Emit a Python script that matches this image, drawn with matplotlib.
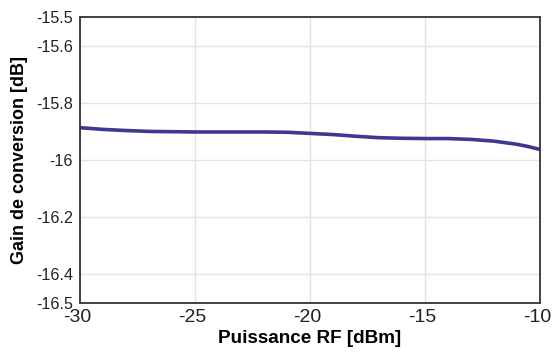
import matplotlib
matplotlib.use("Agg")
import matplotlib.pyplot as plt
import matplotlib.transforms as mtransforms

# RF power sweep (dBm) and conversion gain (dB)
power = [-30, -29, -28, -27, -26, -25, -24, -23, -22, -21, -20, -19, -18,
         -17, -16, -15, -14, -13, -12, -11, -10.5, -10]
gain = [-15.887, -15.893, -15.897, -15.900, -15.901, -15.902, -15.902,
        -15.902, -15.902, -15.903, -15.907, -15.911, -15.917, -15.922,
        -15.924, -15.925, -15.925, -15.928, -15.934, -15.945, -15.953,
        -15.963]

yticks = [-15.5, -15.6, -15.8, -16.0, -16.2, -16.4, -16.5]
ytick_labels = ["-15.5", "-15.6", "-15.8", "-16", "-16.2", "-16.4", "-16.5"]
xticks = [-30, -25, -20, -15, -10]

plt.rcParams["font.family"] = ["Liberation Sans", "DejaVu Sans"]

fig = plt.figure(figsize=(5.52, 3.54), dpi=100)
ax = fig.add_axes([0.145, 0.144, 0.833, 0.808])

ax.plot(power, gain, color="#3d3890", linewidth=2.6, solid_capstyle="butt")

ax.set_xlim(-30, -10)
ax.set_ylim(-16.5, -15.5)
ax.set_xticks(xticks)
ax.set_xticklabels([str(x) for x in xticks])
ax.set_yticks(yticks)
ax.set_yticklabels(ytick_labels)
ax.tick_params(length=0, colors="#222222")
ax.tick_params(axis="x", labelsize=14, pad=4)
ax.tick_params(axis="y", labelsize=11.6, pad=5)

# x labels sit a little left of their ticks in the original
shift = mtransforms.ScaledTranslation(-3 / 100, 0, fig.dpi_scale_trans)
for lbl in ax.get_xticklabels():
    lbl.set_transform(lbl.get_transform() + shift)

ax.grid(color="#e3e3e3", linewidth=1)
ax.set_axisbelow(True)
for s in ax.spines.values():
    s.set_color("#333333")
    s.set_linewidth(1.3)

ax.set_xlabel("Puissance RF [dBm]", fontsize=13.6, fontweight="bold", labelpad=3)
ax.set_ylabel("Gain de conversion [dB]", fontsize=13, fontweight="bold", labelpad=6)

fig.savefig("out.png", dpi=100)
